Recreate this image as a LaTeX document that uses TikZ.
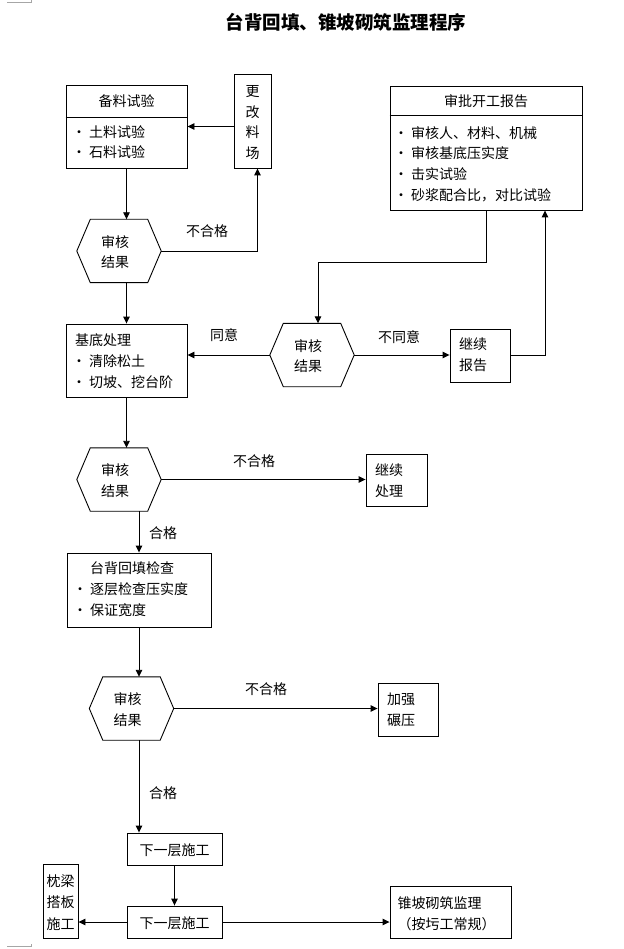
\documentclass[tikz,border=0pt]{standalone}
\usepackage{fontspec}
\newfontfamily\cjk{Noto Sans CJK SC}
\usetikzlibrary{arrows.meta}
\newcommand\bul{\makebox[0pt][r]{·\kern3pt}}
\newcommand\hexnode[3]{%
  \node[hexbox] (#1) at (#2) {};
  \draw[hexline] (#1.west) -- ([xshift=13.5pt]#1.north west) -- ([xshift=-13.5pt]#1.north east) -- (#1.east) -- ([xshift=-13.5pt]#1.south east) -- ([xshift=13.5pt]#1.south west) -- cycle;
  \node[txt, align=center] (#1t) at ([xshift=-4pt,yshift=-1pt]#1.center) {#3};
}
\begin{document}
\begin{tikzpicture}[x=1pt, y=-1pt,
  box/.style={draw, line width=0.9pt, inner sep=0pt},
  txt/.style={inner sep=0pt, font=\cjk\fontsize{14}{20.7}\selectfont},
  lbl/.style={txt},
  hexbox/.style={inner sep=0pt, minimum width=84pt, minimum height=63pt},
  hexline/.style={line width=0.9pt, line join=miter},
  conn/.style={line width=0.9pt},
  arr/.style={conn, -{Triangle[length=7pt,width=6.5pt]}},
  cropmark/.style={draw=black!35, line width=0.8pt}
]
\useasboundingbox[fill=white] (0,0) rectangle (623,949);
% page corner marks
\draw[cropmark] (7,2.5) -- (31,2.5) -- (31,0);
\draw[cropmark] (7,946) -- (31,946) -- (31,944);

\node[font=\cjk\bfseries\fontsize{18.5}{20}\selectfont, inner sep=0pt] (title) at (346,22) {台背回填、锥坡砌筑监理程序};

% 备料试验
\node[box, minimum width=121pt, minimum height=83pt] (b1) at (126.5,126.5) {};
\draw[conn] ([yshift=-32.5pt]b1.north west) -- ([yshift=-32.5pt]b1.north east);
\node[txt] (b1h) at (126.5,101) {备料试验};
\node[txt, anchor=west, align=left] (b1b) at (89,142) {\bul 土料试验\\\bul 石料试验};

% 更改料场
\node[box, minimum width=37pt, minimum height=94pt] (gg) at (252.5,121) {};
\node[txt, align=center, font=\cjk\fontsize{14}{20.4}\selectfont] (ggt) at (252.5,122.5) {更\\改\\料\\场};

% 审批开工报告
\node[box, minimum width=192pt, minimum height=124pt] (sp) at (486,148) {};
\draw[conn] ([yshift=-30pt]sp.north west) -- ([yshift=-30pt]sp.north east);
\node[txt] (sph) at (486,101) {审批开工报告};
\node[txt, anchor=west, align=left] (spb) at (411,164) {\bul 审核人、材料、机械\\\bul 审核基底压实度\\\bul 击实试验\\\bul 砂浆配合比，对比试验};

% hexagons
\hexnode{h1}{119,251}{审核\\结果}
\hexnode{h2}{312,355}{审核\\结果}
\hexnode{h3}{119,479.5}{审核\\结果}
\hexnode{h4}{131.5,708.5}{审核\\结果}

% 基底处理
\node[box, minimum width=121pt, minimum height=73pt] (jd) at (126.5,360.5) {};
\node[txt, anchor=west, align=left, font=\cjk\fontsize{14}{21}\selectfont] (jdt) at (75,361) {基底处理\\\hspace*{14pt}\bul 清除松土\\\hspace*{14pt}\bul 切坡、挖台阶};

% 继续报告
\node[box, minimum width=60pt, minimum height=53pt] (jx) at (480,355.5) {};
\node[txt, align=left] (jxt) at (473,355) {继续\\报告};

% 继续处理
\node[box, minimum width=61pt, minimum height=52pt] (jc) at (396.5,480) {};
\node[txt, align=left] (jct) at (389,481) {继续\\处理};

% 台背回填检查
\node[box, minimum width=144pt, minimum height=74pt] (tb) at (139,590) {};
\node[txt, anchor=west, align=left, font=\cjk\fontsize{14}{21}\selectfont] (tbt) at (90,589.5) {台背回填检查\\\bul 逐层检查压实度\\\bul 保证宽度};

% 加强碾压
\node[box, minimum width=60pt, minimum height=53pt] (jq) at (408,709.5) {};
\node[txt, align=left] (jqt) at (401,710) {加强\\碾压};

% 下一层施工
\node[box, minimum width=95pt, minimum height=32pt] (x1) at (174.5,849) {};
\node[txt] (x1t) at (174.5,850) {下一层施工};
\node[box, minimum width=95pt, minimum height=32pt] (x2) at (174.5,922) {};
\node[txt] (x2t) at (174.5,923) {下一层施工};

% 枕梁搭板施工
\node[box, minimum width=35pt, minimum height=74pt] (zl) at (60.5,901) {};
\node[txt, align=center, font=\cjk\fontsize{14}{21.5}\selectfont] (zlt) at (60.5,902.5) {枕梁\\搭板\\施工};

% 锥坡砌筑监理
\node[box, minimum width=121pt, minimum height=52pt] (zp) at (450.5,912) {};
\node[txt, anchor=west, align=left, font=\cjk\fontsize{14}{21}\selectfont] (zpt) at (397.5,913.5) {锥坡砌筑监理\\（按圬工常规）};

% connectors
\draw[arr] (b1.south) -- (b1.south |- h1.north);
\draw[arr] (h1.east) -| ([xshift=5pt]gg.south);
\draw[arr] (gg.west |- b1.east) -- (b1.east);
\draw[arr] (h1.south -| jd.north) -- (jd.north);
\draw[arr] (sp.south) -- ++(0,52) -| ([xshift=6pt]h2.north);
\draw[arr] (h2.west) -- (h2.west -| jd.east);
\draw[arr] (h2.east) -- (h2.east -| jx.west);
\draw[arr] (jx.east) -| ([xshift=59pt]sp.south);
\draw[arr] (jd.south) -- (jd.south |- h3.north);
\draw[arr] (h3.east) -- (h3.east -| jc.west);
\draw[arr] (h3.south -| tb.north) -- (tb.north);
\draw[arr] (tb.south) -- (tb.south |- h4.north);
\draw[arr] (h4.east) -- (h4.east -| jq.west);
\draw[arr] (h4.south -| tb.south) -- (x1.north -| tb.south);
\draw[arr] (x1.south) -- (x2.north);
\draw[arr] (x2.west) -- (x2.west -| zl.east);
\draw[arr] (x2.east) -- (x2.east -| zp.west);

% labels
\node[lbl] (l1) at (207,231) {不合格};
\node[lbl] (l2) at (224,335) {同意};
\node[lbl] (l3) at (399,337) {不同意};
\node[lbl] (l4) at (254,461) {不合格};
\node[lbl] (l5) at (163,533) {合格};
\node[lbl] (l6) at (266,689) {不合格};
\node[lbl] (l7) at (163,793) {合格};
\end{tikzpicture}
\end{document}
